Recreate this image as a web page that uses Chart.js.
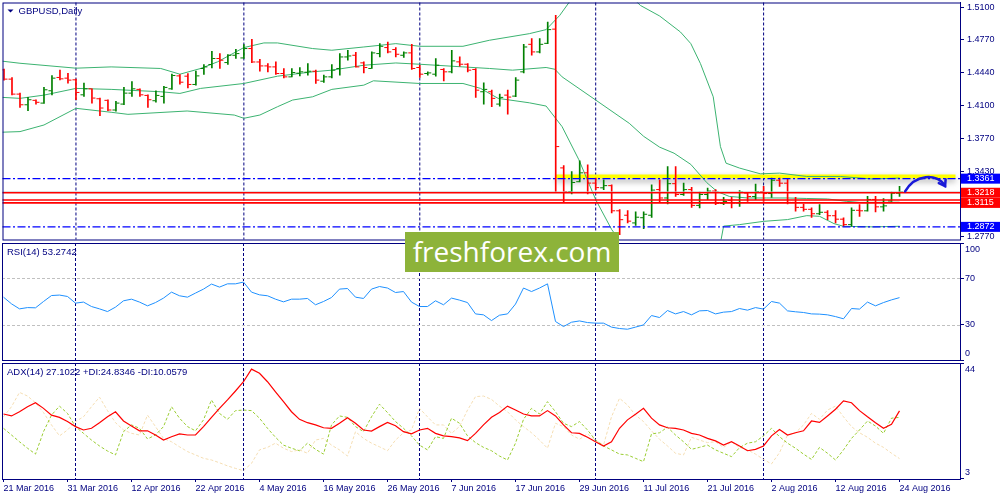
<!DOCTYPE html>
<html>
<head>
<meta charset="utf-8">
<script src="https://cdn.jsdelivr.net/npm/chart.js@4.4.1/dist/chart.umd.min.js"></script>
<style>
  html, body { margin: 0; padding: 0; background: #fff; }
  #wrap { position: relative; width: 1000px; height: 500px; overflow: hidden; }
  #wrap canvas { position: absolute; left: 0; }
  #logo {
    position: absolute; left: 405px; top: 232px; width: 214px; height: 40px;
    background: #8db33a; color: #fff; text-align: center;
    font: 28px "Open Sans", sans-serif; line-height: 38px;
  }
</style>
</head>
<body>
<div id="wrap">
  <canvas id="pricePane" width="1000" height="242" style="top:0px"></canvas>
  <canvas id="rsiPane" width="1000" height="119" style="top:242px"></canvas>
  <canvas id="adxPane" width="1000" height="139" style="top:361px"></canvas>
  <div id="logo">freshforex.com</div>
</div>
<script>
// ---- data (GBPUSD daily, 21 Mar 2016 .. 24 Aug 2016) ----
const tickLabels = ['21 Mar 2016', '31 Mar 2016', '12 Apr 2016', '22 Apr 2016', '4 May 2016',
  '16 May 2016', '26 May 2016', '7 Jun 2016', '17 Jun 2016', '29 Jun 2016', '11 Jul 2016',
  '21 Jul 2016', '2 Aug 2016', '12 Aug 2016', '24 Aug 2016'];
const tickStep = 8;                       // one date label every 8 bars
const monthStarts = [9, 30, 52, 74, 95];  // 1 Apr, 2 May, 1 Jun, 1 Jul, 1 Aug

const open = [1.4464,1.4370,1.4218,1.4110,1.4155,1.4127,1.4252,1.4387,1.4380,1.4363,
  1.4211,1.4272,1.4171,1.4155,1.4057,1.4117,1.4228,1.4266,1.4205,1.4151,
  1.4195,1.4272,1.4403,1.4400,1.4316,1.4478,1.4518,1.4579,1.4538,1.4612,
  1.4585,1.4680,1.4544,1.4504,1.4494,1.4427,1.4393,1.4430,1.4440,1.4450,
  1.4349,1.4393,1.4478,1.4595,1.4612,1.4535,1.4478,1.4629,1.4690,1.4670,
  1.4612,1.4636,1.4488,1.4427,1.4420,1.4468,1.4444,1.4545,1.4521,1.4468,
  1.4242,1.4242,1.4117,1.4208,1.4198,1.4444,1.4723,1.4646,1.4733,1.4877,
  1.3470,1.3229,1.3330,1.3420,1.3316,1.3268,1.3290,1.3035,1.2990,1.2912,
  1.2965,1.2990,1.3250,1.3165,1.3310,1.3200,1.3250,1.3090,1.3200,1.3235,
  1.3110,1.3140,1.3115,1.3215,1.3180,1.3230,1.3210,1.3345,1.3315,1.3120,
  1.3070,1.3050,1.3005,1.3020,1.2985,1.2950,1.2895,1.3040,1.3035,1.3150,
  1.3075,1.3135,1.3213];
const high = [1.4471,1.4387,1.4229,1.4185,1.4161,1.4286,1.4407,1.4461,1.4430,1.4370,
  1.4329,1.4272,1.4178,1.4161,1.4145,1.4286,1.4346,1.4272,1.4211,1.4252,
  1.4296,1.4420,1.4415,1.4427,1.4451,1.4518,1.4653,1.4629,1.4619,1.4673,
  1.4720,1.4774,1.4572,1.4528,1.4545,1.4478,1.4478,1.4488,1.4528,1.4461,
  1.4410,1.4518,1.4629,1.4663,1.4643,1.4545,1.4646,1.4730,1.4746,1.4690,
  1.4646,1.4723,1.4511,1.4444,1.4579,1.4478,1.4663,1.4595,1.4528,1.4478,
  1.4332,1.4259,1.4218,1.4259,1.4387,1.4723,1.4781,1.4781,1.4948,1.5016,
  1.3494,1.3433,1.3542,1.3501,1.3367,1.3350,1.3299,1.3047,1.3037,1.3024,
  1.3024,1.3299,1.3350,1.3484,1.3484,1.3316,1.3272,1.3225,1.3266,1.3249,
  1.3171,1.3171,1.3239,1.3215,1.3306,1.3282,1.3367,1.3367,1.3360,1.3171,
  1.3104,1.3064,1.3097,1.3037,1.3037,1.2963,1.3064,1.3097,1.3181,1.3181,
  1.3158,1.3225,1.3282];
const low = [1.4360,1.4211,1.4084,1.4050,1.4117,1.4124,1.4211,1.4363,1.4329,1.4161,
  1.4195,1.4127,1.3999,1.4050,1.4044,1.4110,1.4195,1.4195,1.4084,1.4137,
  1.4127,1.4266,1.4319,1.4282,1.4309,1.4417,1.4484,1.4478,1.4518,1.4579,
  1.4579,1.4538,1.4451,1.4444,1.4417,1.4383,1.4393,1.4403,1.4410,1.4326,
  1.4336,1.4383,1.4410,1.4562,1.4491,1.4433,1.4478,1.4595,1.4636,1.4595,
  1.4589,1.4468,1.4387,1.4410,1.4400,1.4353,1.4433,1.4501,1.4444,1.4185,
  1.4117,1.4090,1.4097,1.4016,1.4191,1.4433,1.4612,1.4636,1.4730,1.3229,
  1.3128,1.3205,1.3329,1.3205,1.3249,1.3249,1.3013,1.2794,1.2912,1.2888,
  1.2855,1.2969,1.3128,1.3104,1.3181,1.3191,1.3070,1.3064,1.3148,1.3097,
  1.3097,1.3064,1.3080,1.3131,1.3148,1.3131,1.3171,1.3282,1.3104,1.3030,
  1.3030,1.2969,1.2996,1.2946,1.2912,1.2878,1.2878,1.2979,1.3030,1.3023,
  1.3030,1.3130,1.3181];
const close = [1.4370,1.4218,1.4110,1.4161,1.4135,1.4262,1.4380,1.4373,1.4360,1.4235,
  1.4272,1.4178,1.4077,1.4057,1.4127,1.4228,1.4272,1.4211,1.4161,1.4205,
  1.4286,1.4407,1.4339,1.4316,1.4403,1.4494,1.4579,1.4562,1.4612,1.4629,
  1.4680,1.4544,1.4504,1.4494,1.4427,1.4393,1.4437,1.4444,1.4450,1.4360,
  1.4393,1.4461,1.4595,1.4605,1.4494,1.4488,1.4636,1.4703,1.4646,1.4622,
  1.4636,1.4478,1.4420,1.4433,1.4511,1.4444,1.4555,1.4521,1.4461,1.4258,
  1.4266,1.4175,1.4185,1.4188,1.4360,1.4696,1.4646,1.4723,1.4872,1.3686,
  1.3229,1.3322,1.3420,1.3316,1.3270,1.3290,1.3035,1.2945,1.2930,1.2970,
  1.3000,1.3245,1.3165,1.3310,1.3200,1.3250,1.3090,1.3200,1.3235,1.3110,
  1.3130,1.3115,1.3225,1.3180,1.3230,1.3210,1.3345,1.3315,1.3120,1.3070,
  1.3050,1.3005,1.3020,1.2985,1.2950,1.2895,1.3040,1.3035,1.3150,1.3075,
  1.3085,1.3213,1.3226];

// Bollinger bands, [bar, price]
const bbUpper = [[-0.2,1.4552],[2,1.4531],[9,1.4481],[13.4,1.4494],[19.6,1.4478],[22,1.4420],
  [24.6,1.4478],[26.7,1.4545],[30,1.4690],[32.5,1.4737],[34.2,1.4737],[38.6,1.4680],[41,1.4663],
  [45,1.4696],[49,1.4730],[52,1.4703],[57.4,1.4703],[60.7,1.4764],[65.7,1.4831],[67.8,1.4872],
  [69.5,1.5016],[70.7,1.5151],[72,1.5270],[74,1.5350],[76,1.5340],[78,1.5240],[79.6,1.5117],
  [82,1.5010],[84.6,1.4848],[85.9,1.4730],[87.1,1.4528],[88.7,1.4191],[89.6,1.3686],[90.3,1.3518],
  [92,1.3468],[94.6,1.3410],[97,1.3417],[100.4,1.3383],[104.6,1.3383],[108.7,1.3357],[112,1.3367]];
const bbMiddle = [[-0.2,1.4185],[2,1.4175],[5,1.4208],[9,1.4276],[13.4,1.4266],[19.6,1.4242],
  [22,1.4225],[24.6,1.4276],[30,1.4326],[34.2,1.4400],[38.6,1.4444],[41,1.4461],[45,1.4511],
  [49,1.4534],[52,1.4521],[57.4,1.4494],[60.7,1.4478],[63.6,1.4461],[67.8,1.4488],[68.9,1.4470],
  [69.8,1.4393],[74,1.4158],[78.2,1.3922],[80,1.3790],[82,1.3680],[83.8,1.3619],[85.9,1.3505],
  [87.9,1.3320],[89.2,1.3230],[90.7,1.3181],[93,1.3165],[95.4,1.3165],[98,1.3165],[100.4,1.3160],
  [103,1.3155],[105.4,1.3131],[107,1.3120],[112,1.3122]];
const bbLower = [[-0.2,1.3832],[2,1.3838],[5,1.3905],[9,1.4074],[13.4,1.4034],[15.5,1.4013],
  [22.9,1.4047],[28.8,1.4006],[30,1.3973],[32,1.4006],[34.2,1.4090],[36.1,1.4158],[38.6,1.4191],
  [41,1.4266],[45,1.4309],[46.2,1.4353],[52,1.4326],[57.4,1.4326],[59.6,1.4276],[61.8,1.4175],
  [65.7,1.4130],[67.8,1.4097],[69.8,1.3888],[71.9,1.3552],[74,1.3148],[76,1.2845],[78,1.2620],
  [82,1.2500],[86,1.2520],[89.4,1.2620],[90,1.2880],[92,1.2895],[95,1.2928],[98,1.2946],
  [100.4,1.2986],[102,1.2979],[103.8,1.2905],[105,1.2878],[108.7,1.2872],[112,1.2878]];

const priceTicks = [1.5100, 1.4770, 1.4440, 1.4100, 1.3770, 1.3430, 1.2770];
const redLevels = [1.3218, 1.3145, 1.3115];
const blueLevels = [1.3361, 1.2872];
const bidLevel = 1.3226;
const priceTags = [[1.3361, '#0000ff'], [1.3218, '#ff0000'], [1.3115, '#ff0000'], [1.2872, '#0000ff']];
const zoneLevel = 1.3383, zoneFrom = 69, zoneTo = 119;
const arrowPath = [[112.7, 1.3231], [113.9, 1.3405], [116.7, 1.3425], [117.7, 1.3285]];

const rsi = [53.7,48.0,43.7,44.8,44.6,50.0,55.1,55.5,54.3,48.6,
  49.5,45.7,43.7,41.4,45.2,50.6,52.0,49.5,46.3,49.1,
  52.9,58.0,54.9,53.7,57.2,60.6,64.9,62.3,65.1,65.1,
  66.6,58.0,55.7,54.9,52.0,49.7,52.0,52.0,52.6,47.2,
  50.0,53.4,60.6,61.1,53.7,52.6,60.6,62.8,61.5,57.7,
  58.5,49.5,45.7,45.7,50.6,47.2,52.9,51.2,49.1,39.4,
  38.6,33.7,38.3,39.4,47.8,61.5,58.5,61.5,65.1,32.9,
  28.6,32.3,33.4,32.0,31.5,31.5,28.1,26.9,26.3,28.1,
  30.0,38.0,36.3,42.3,39.4,41.4,38.6,42.0,42.3,39.4,
  40.9,41.4,44.0,42.6,44.8,43.5,50.0,48.6,42.0,41.2,
  40.6,39.4,39.2,38.6,37.1,35.2,44.0,43.5,49.5,46.3,
  49.1,51.4,53.3];
const rsiLevels = [70, 30];

const adx = [26.0,25.3,26.8,28.6,30.0,28.0,25.6,24.8,23.3,21.5,
  20.3,20.9,22.9,25.0,26.8,23.5,21.7,20.0,20.0,18.5,
  16.7,17.9,18.9,18.5,18.5,21.5,24.8,28.0,31.0,34.2,
  37.5,42.0,40.5,37.5,33.9,30.4,26.8,24.1,22.9,22.1,
  21.1,20.9,22.7,24.7,22.7,20.3,19.9,21.5,23.0,21.8,
  19.7,18.9,20.3,20.9,19.1,18.2,17.9,17.5,16.5,19.1,
  22.1,24.8,26.5,28.8,27.4,26.0,25.3,25.3,27.2,25.3,
  22.1,19.3,19.1,17.7,16.1,14.6,16.1,20.9,23.9,25.9,
  28.0,24.5,22.1,21.1,20.9,20.3,19.1,18.5,17.3,16.4,
  14.9,16.1,14.6,12.9,13.4,14.6,18.2,20.5,18.5,19.3,
  20.0,23.5,23.0,25.3,27.7,30.7,30.0,27.2,25.0,22.9,
  20.9,22.3,27.1];
const plusDI = [20.9,18.5,16.1,13.8,11.7,19.7,25.6,28.8,26.2,21.5,
  19.1,16.7,14.6,12.8,11.4,19.7,22.1,20.9,17.1,18.5,
  21.5,28.6,24.5,21.5,20.0,23.9,31.0,26.2,24.1,27.2,
  27.4,27.2,24.5,20.9,17.7,14.9,13.8,12.9,15.6,13.4,
  11.7,22.1,25.3,24.8,21.5,19.7,25.0,29.5,26.5,23.3,
  20.9,18.2,14.9,13.2,17.9,17.3,24.5,22.7,18.2,15.8,
  14.1,12.9,11.0,9.6,15.6,24.1,28.0,26.0,30.4,26.8,
  22.7,21.5,23.3,20.3,16.7,14.6,13.2,11.7,11.4,10.2,
  9.0,18.9,19.3,21.3,18.5,16.1,13.4,14.1,14.9,13.2,
  12.0,10.8,14.0,15.6,16.1,18.2,20.9,17.9,15.6,13.8,
  11.7,9.8,14.1,12.0,9.6,13.2,17.3,20.3,23.5,21.7,
  19.1,24.5,24.8];
const minusDI = [25.0,28.6,33.7,32.4,30.0,26.5,22.1,18.2,20.3,23.3,
  25.0,28.6,32.0,27.2,22.9,20.3,19.1,18.5,25.6,21.5,
  17.3,16.1,14.3,12.6,11.4,10.2,9.6,8.6,7.5,6.6,
  5.8,8.4,13.2,14.1,15.6,13.8,12.6,13.2,12.0,16.7,
  17.3,14.9,13.2,11.0,19.7,17.3,15.6,14.3,12.9,16.7,
  19.3,20.3,28.0,25.0,22.1,22.1,19.1,21.5,27.4,32.2,
  32.4,31.2,28.8,26.8,23.9,21.5,19.3,16.7,13.8,22.7,
  21.5,18.5,17.0,18.9,16.7,14.9,25.0,31.6,29.2,25.6,
  23.3,20.0,17.0,14.6,12.0,11.4,17.7,16.7,15.8,16.1,
  14.1,16.1,14.1,13.2,11.7,9.8,8.2,12.2,18.5,19.3,
  22.1,26.2,24.1,27.4,28.8,25.0,21.5,19.3,17.7,15.6,
  14.1,12.0,10.1];

// ---- styling / layout ----
const NAVY = '#000080';
const UP = '#008000', DOWN = '#ff0000';
const AXIS_FONT = { family: '"Liberation Sans", Arial, sans-serif', size: 9 };
const TITLE_FONT = '9.5px "Liberation Sans", Arial, sans-serif';
const X_MIN = -0.1875, X_MAX = 119.5625;   // 8 px per bar across the 958 px pane

const barColor = i => close[i] >= open[i] ? UP : DOWN;
const pts = arr => arr.map((v, i) => ({ x: i, y: v }));
const pairs = arr => arr.map(([x, y]) => ({ x, y }));

function xAxis(show) {
  return {
    type: 'linear', min: X_MIN, max: X_MAX, offset: false, display: show,
    grid: { drawOnChartArea: false, drawTicks: true, tickLength: 3, color: NAVY },
    border: { display: true, color: NAVY },
    ticks: {
      color: NAVY, font: AXIS_FONT, padding: 1, align: 'start', autoSkip: false,
      maxRotation: 0, minRotation: 0,
      callback: v => tickLabels[Math.round(v / tickStep)] || ''
    },
    afterBuildTicks: s => { s.ticks = tickLabels.map((_, k) => ({ value: k * tickStep })); },
    afterFit: s => {
      if (show) s.height = 21;
      s.paddingLeft = 0; s.paddingRight = 0;
    }
  };
}

function yAxis(min, max, values, showLabels) {
  return {
    position: 'right', min, max,
    grid: { drawOnChartArea: false, drawTicks: true, tickLength: 4, color: NAVY },
    border: { display: true, color: NAVY },
    ticks: { display: showLabels, color: NAVY, font: AXIS_FONT, padding: 3, callback: v => v.toFixed(4) },
    afterBuildTicks: s => { s.ticks = values.map(v => ({ value: v })); },
    afterFit: s => { s.width = 40; s.paddingTop = 0; s.paddingBottom = 0; }
  };
}

// frame, month separators, pane caption, inset scale labels
const paneFrame = {
  id: 'paneFrame',
  beforeDatasetsDraw(chart) {
    const { ctx, chartArea: a, scales: { x } } = chart;
    ctx.save();
    ctx.strokeStyle = NAVY; ctx.lineWidth = 1; ctx.setLineDash([3, 2]);
    monthStarts.forEach(i => {
      const px = x.getPixelForValue(i);
      ctx.beginPath(); ctx.moveTo(px, a.top); ctx.lineTo(px, a.bottom); ctx.stroke();
    });
    ctx.restore();
  },
  afterDraw(chart, args, opts) {
    const { ctx, chartArea: a, scales: { y } } = chart;
    ctx.save();
    ctx.strokeStyle = NAVY; ctx.lineWidth = 1;
    ctx.strokeRect(a.left + 0.5, a.top + 0.5, a.right - a.left, a.bottom - a.top);
    ctx.font = TITLE_FONT; ctx.fillStyle = NAVY; ctx.textBaseline = 'middle'; ctx.textAlign = 'left';
    ctx.fillText(opts.title, a.left + opts.tx, a.top + 9);
    if (opts.triangle) {
      ctx.beginPath();
      ctx.moveTo(a.left + 5, a.top + 7); ctx.lineTo(a.left + 11, a.top + 7); ctx.lineTo(a.left + 8, a.top + 10);
      ctx.closePath(); ctx.fill();
    }
    if (opts.labels) {
      ctx.font = '9px "Liberation Sans", Arial, sans-serif';
      opts.labels.forEach(v => {
        let py = y.getPixelForValue(v);
        if (py - a.top < 6) py = a.top + 6.5;
        if (a.bottom - py < 6) py = a.bottom - 6.5;
        ctx.fillText(String(v), a.right + 5, py);
      });
    }
    ctx.restore();
  }
};

// zone, levels, right-axis price tags and the hand drawn arrow of the price pane
const priceMarks = {
  id: 'priceMarks',
  beforeDatasetsDraw(chart) {
    const { ctx, scales: { x, y } } = chart;
    const py = y.getPixelForValue(zoneLevel);
    ctx.save();
    ctx.shadowColor = 'rgba(0,0,0,0.35)'; ctx.shadowBlur = 6; ctx.shadowOffsetY = 3;
    ctx.strokeStyle = '#ffff00'; ctx.lineWidth = 4;
    ctx.beginPath(); ctx.moveTo(x.getPixelForValue(zoneFrom), py); ctx.lineTo(x.getPixelForValue(zoneTo), py); ctx.stroke();
    ctx.restore();
  },
  afterDatasetsDraw(chart) {
    const { ctx, chartArea: a, scales: { y } } = chart;
    const hline = (v, color, w, dash) => {
      const py = y.getPixelForValue(v);
      ctx.strokeStyle = color; ctx.lineWidth = w; ctx.setLineDash(dash);
      ctx.beginPath(); ctx.moveTo(a.left, py); ctx.lineTo(a.right, py); ctx.stroke();
    };
    ctx.save();
    hline(bidLevel, '#c0c0c0', 1, []);
    redLevels.forEach(v => hline(v, '#ff0000', 1.6, []));
    blueLevels.forEach(v => hline(v, '#0000ff', 1.4, [8, 2.5, 2, 2.5]));
    ctx.restore();
  },
  afterDraw(chart) {
    const { ctx, chartArea: a, scales: { x, y } } = chart;
    ctx.save();
    ctx.font = '9px "Liberation Sans", Arial, sans-serif';
    ctx.textBaseline = 'middle'; ctx.textAlign = 'left';
    priceTags.forEach(([v, color]) => {
      const py = y.getPixelForValue(v);
      ctx.fillStyle = color; ctx.fillRect(a.right + 1, py - 5, 40, 10);
      ctx.fillStyle = '#ffffff'; ctx.fillText(v.toFixed(4), a.right + 7, py);
    });
    const p = arrowPath.map(([i, v]) => [x.getPixelForValue(i), y.getPixelForValue(v)]);
    ctx.strokeStyle = '#1a1ad8'; ctx.lineWidth = 2.5; ctx.lineCap = 'round';
    ctx.beginPath(); ctx.moveTo(p[0][0], p[0][1]);
    ctx.bezierCurveTo(p[1][0], p[1][1], p[2][0], p[2][1], p[3][0], p[3][1]); ctx.stroke();
    const ang = Math.atan2(p[3][1] - p[2][1], p[3][0] - p[2][0]);
    ctx.beginPath();
    ctx.moveTo(p[3][0] - 7 * Math.cos(ang - 0.6), p[3][1] - 7 * Math.sin(ang - 0.6));
    ctx.lineTo(p[3][0], p[3][1]);
    ctx.lineTo(p[3][0] - 7 * Math.cos(ang + 0.6), p[3][1] - 7 * Math.sin(ang + 0.6));
    ctx.stroke();
    ctx.restore();
  }
};

// dashed RSI levels
const rsiMarks = {
  id: 'rsiMarks',
  beforeDatasetsDraw(chart) {
    const { ctx, chartArea: a, scales: { y } } = chart;
    ctx.save();
    ctx.strokeStyle = '#c0c0c0'; ctx.lineWidth = 1; ctx.setLineDash([3, 2]);
    rsiLevels.forEach(v => {
      const py = Math.round(y.getPixelForValue(v)) + 0.5;
      ctx.beginPath(); ctx.moveTo(a.left, py); ctx.lineTo(a.right, py); ctx.stroke();
    });
    ctx.restore();
  }
};

const common = pad => ({
  responsive: false, animation: false, events: [],
  layout: { padding: pad },
  elements: { point: { radius: 0, hoverRadius: 0 }, line: { tension: 0 } }
});

// ---- price pane ----
const tickStyle = (vals, dx) => ({
  type: 'line', showLine: false, order: 1,
  data: vals.map((v, i) => ({ x: i + dx, y: v })),
  pointStyle: 'line', pointRadius: 1.5, pointHoverRadius: 1.5, pointBorderWidth: 1,
  pointBorderColor: c => barColor(c.dataIndex), pointBackgroundColor: c => barColor(c.dataIndex)
});
const bandStyle = arr => ({
  type: 'line', data: pairs(arr), order: 5,
  borderColor: '#3cb371', borderWidth: 1, pointRadius: 0
});

new Chart(document.getElementById('pricePane'), {
  type: 'line',
  data: {
    datasets: [
      bandStyle(bbUpper), bandStyle(bbMiddle), bandStyle(bbLower),
      {
        type: 'bar', order: 2,
        data: high.map((h, i) => ({ x: i, y: [low[i], h] })),
        backgroundColor: c => barColor(c.dataIndex), borderWidth: 0, barThickness: 1, grouped: false
      },
      tickStyle(open, -0.25),
      tickStyle(close, 0.25)
    ]
  },
  options: Object.assign(common({ left: 2, top: 2, bottom: 2, right: 0 }), {
    scales: { x: xAxis(false), y: yAxis(1.2744, 1.5147, priceTicks, true) },
    plugins: {
      legend: { display: false }, tooltip: { enabled: false },
      paneFrame: { title: 'GBPUSD,Daily', tx: 16, triangle: true }
    }
  }),
  plugins: [paneFrame, priceMarks]
});

// ---- RSI pane ----
new Chart(document.getElementById('rsiPane'), {
  type: 'line',
  data: { datasets: [{ data: pts(rsi), borderColor: '#1e90ff', borderWidth: 1, pointRadius: 0 }] },
  options: Object.assign(common({ left: 2, top: 1, bottom: 1, right: 0 }), {
    scales: { x: xAxis(false), y: yAxis(0, 100, [100, 70, 30, 0], false) },
    plugins: {
      legend: { display: false }, tooltip: { enabled: false },
      paneFrame: { title: 'RSI(14) 53.2742', tx: 5, labels: [100, 70, 30, 0] }
    }
  }),
  plugins: [paneFrame, rsiMarks]
});

// ---- ADX pane ----
new Chart(document.getElementById('adxPane'), {
  type: 'line',
  data: {
    datasets: [
      { data: pts(adx), borderColor: '#ff0000', borderWidth: 1.2, pointRadius: 0, order: 1 },
      { data: pts(plusDI), borderColor: '#9acd32', borderWidth: 1, borderDash: [3, 2], pointRadius: 0, order: 2 },
      { data: pts(minusDI), borderColor: '#f5deb3', borderWidth: 1, borderDash: [3, 2], pointRadius: 0, order: 3 }
    ]
  },
  options: Object.assign(common({ left: 2, top: 2, bottom: 0, right: 0 }), {
    scales: { x: xAxis(true), y: yAxis(2.82, 44.18, [44, 3], false) },
    plugins: {
      legend: { display: false }, tooltip: { enabled: false },
      paneFrame: { title: 'ADX(14) 27.1022 +DI:24.8346 -DI:10.0579', tx: 5, labels: [44, 3] }
    }
  }),
  plugins: [paneFrame]
});
</script>
</body>
</html>
